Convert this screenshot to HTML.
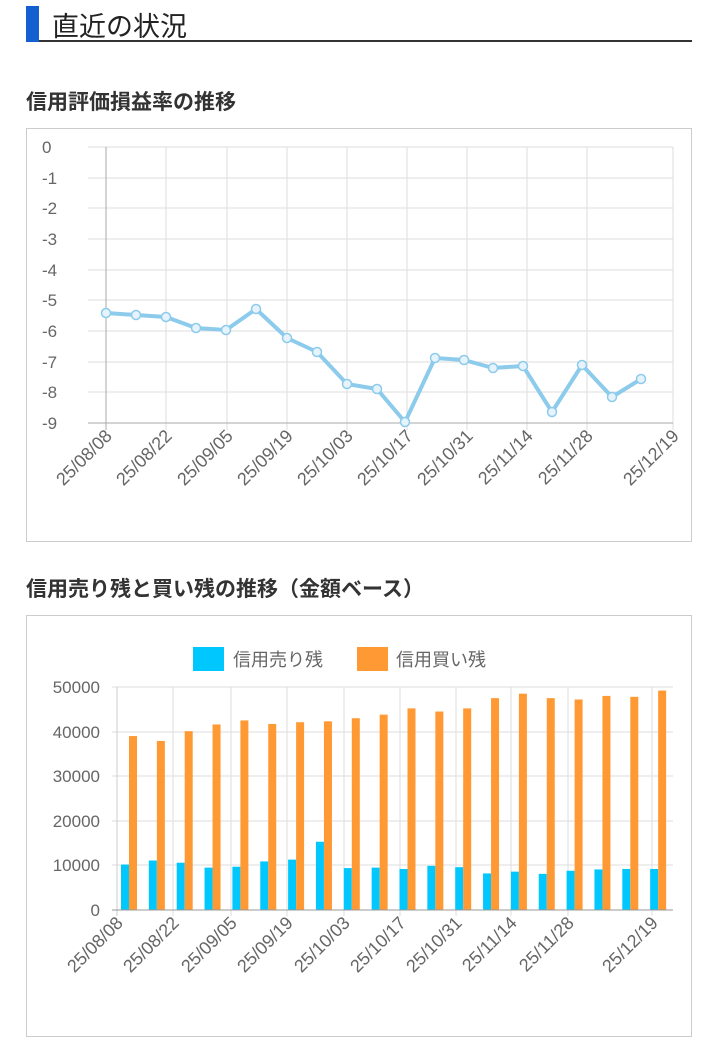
<!DOCTYPE html>
<html><head><meta charset="utf-8"><style>
body{margin:0;width:716px;height:1024px;background:#fff;font-family:"Liberation Sans","Noto Sans CJK JP",sans-serif;overflow:hidden;position:relative}
.h1{position:absolute;left:26px;top:4px;width:666px;height:36px;border-bottom:2px solid #333}
.h1 .bar{position:absolute;left:0;top:2px;width:13px;height:36px;background:#1560d0}
.h1 .t{position:absolute;left:26px;top:1px;font-size:27px;color:#222}
.h2{position:absolute;left:26px;font-size:21px;font-weight:bold;color:#333}
.box{position:absolute;left:26px;width:664px;border:1px solid #ccc}
svg{position:absolute;left:0;top:0}
</style></head><body>
<div class="h1"><div class="bar"></div><div class="t">直近の状況</div></div>
<div class="h2" style="top:86px">信用評価損益率の推移</div>
<div class="box" style="top:128px;height:412px"></div>
<div class="h2" style="top:573px">信用売り残と買い残の推移（金額ベース）</div>
<div class="box" style="top:615px;height:420px"></div>
<svg width="716" height="1024" font-family="Liberation Sans, sans-serif">
<g stroke="#ddd" stroke-width="1">
<line x1="88" x2="673" y1="147" y2="147"/><line x1="88" x2="673" y1="178" y2="178"/><line x1="88" x2="673" y1="208" y2="208"/><line x1="88" x2="673" y1="239" y2="239"/><line x1="88" x2="673" y1="270" y2="270"/><line x1="88" x2="673" y1="300" y2="300"/><line x1="88" x2="673" y1="331" y2="331"/><line x1="88" x2="673" y1="362" y2="362"/><line x1="88" x2="673" y1="392" y2="392"/>
<line x1="166" x2="166" y1="147" y2="430"/><line x1="227" x2="227" y1="147" y2="430"/><line x1="287" x2="287" y1="147" y2="430"/><line x1="347" x2="347" y1="147" y2="430"/><line x1="407" x2="407" y1="147" y2="430"/><line x1="467" x2="467" y1="147" y2="430"/><line x1="527" x2="527" y1="147" y2="430"/><line x1="587" x2="587" y1="147" y2="430"/><line x1="673" x2="673" y1="147" y2="430"/>
</g>
<line x1="106" x2="106" y1="147" y2="430" stroke="#aaa"/>
<line x1="88" x2="673" y1="423" y2="423" stroke="#aaa"/>
<g font-size="17" fill="#666">
<text x="42" y="153">0</text><text x="42" y="184">-1</text><text x="42" y="214">-2</text><text x="42" y="245">-3</text><text x="42" y="276">-4</text><text x="42" y="306">-5</text><text x="42" y="337">-6</text><text x="42" y="368">-7</text><text x="42" y="398">-8</text><text x="42" y="429">-9</text>
</g>
<g font-size="18" fill="#666" text-anchor="end">
<text transform="translate(113,437) rotate(-45)">25/08/08</text>
<text transform="translate(173,437) rotate(-45)">25/08/22</text>
<text transform="translate(234,437) rotate(-45)">25/09/05</text>
<text transform="translate(294,437) rotate(-45)">25/09/19</text>
<text transform="translate(354,437) rotate(-45)">25/10/03</text>
<text transform="translate(414,437) rotate(-45)">25/10/17</text>
<text transform="translate(474,437) rotate(-45)">25/10/31</text>
<text transform="translate(534,437) rotate(-45)">25/11/14</text>
<text transform="translate(594,437) rotate(-45)">25/11/28</text>
<text transform="translate(680,437) rotate(-45)">25/12/19</text>
</g>
<polyline fill="none" stroke="#8ccbeb" stroke-width="4" stroke-linejoin="round" points="106,313 136,315 166,317 196,328 226,330 256,309 287,338 317,352 347,384 377,389 405,422 435,358 464,360 493,368 523,366 552,412 582,365 612,397 641,379"/>
<g fill="#e6f3fa" stroke="#8ccbeb" stroke-width="1.5">
<circle cx="106" cy="313" r="4.5"/><circle cx="136" cy="315" r="4.5"/><circle cx="166" cy="317" r="4.5"/><circle cx="196" cy="328" r="4.5"/><circle cx="226" cy="330" r="4.5"/><circle cx="256" cy="309" r="4.5"/><circle cx="287" cy="338" r="4.5"/><circle cx="317" cy="352" r="4.5"/><circle cx="347" cy="384" r="4.5"/><circle cx="377" cy="389" r="4.5"/><circle cx="405" cy="422" r="4.5"/><circle cx="435" cy="358" r="4.5"/><circle cx="464" cy="360" r="4.5"/><circle cx="493" cy="368" r="4.5"/><circle cx="523" cy="366" r="4.5"/><circle cx="552" cy="412" r="4.5"/><circle cx="582" cy="365" r="4.5"/><circle cx="612" cy="397" r="4.5"/><circle cx="641" cy="379" r="4.5"/>
</g>
<rect x="193" y="647" width="31" height="24" fill="#00c8ff"/>
<text x="233" y="666" font-size="18" fill="#666" font-family="Liberation Sans, Noto Sans CJK JP, sans-serif">信用売り残</text>
<rect x="357" y="647" width="31" height="24" fill="#ff9933"/>
<text x="396" y="666" font-size="18" fill="#666" font-family="Liberation Sans, Noto Sans CJK JP, sans-serif">信用買い残</text>
<g stroke="#ddd">
<line x1="112" x2="673" y1="687" y2="687"/><line x1="112" x2="673" y1="732" y2="732"/><line x1="112" x2="673" y1="776" y2="776"/><line x1="112" x2="673" y1="821" y2="821"/><line x1="112" x2="673" y1="865" y2="865"/>
<line x1="173" x2="173" y1="687" y2="916"/><line x1="231" x2="231" y1="687" y2="916"/><line x1="287" x2="287" y1="687" y2="916"/><line x1="344" x2="344" y1="687" y2="916"/><line x1="400" x2="400" y1="687" y2="916"/><line x1="456" x2="456" y1="687" y2="916"/><line x1="511" x2="511" y1="687" y2="916"/><line x1="568" x2="568" y1="687" y2="916"/><line x1="652" x2="652" y1="687" y2="916"/>
</g>
<line x1="117" x2="117" y1="687" y2="916" stroke="#ccc"/>
<g font-size="17" fill="#666" text-anchor="end">
<text x="100" y="693">50000</text><text x="100" y="738">40000</text><text x="100" y="782">30000</text><text x="100" y="827">20000</text><text x="100" y="871">10000</text><text x="100" y="916">0</text>
</g>
<g id="bars"></g>
<line x1="112" x2="673" y1="910" y2="910" stroke="#999"/>
<g font-size="18" fill="#666" text-anchor="end">
<text transform="translate(124,924) rotate(-45)">25/08/08</text>
<text transform="translate(180,924) rotate(-45)">25/08/22</text>
<text transform="translate(238,924) rotate(-45)">25/09/05</text>
<text transform="translate(294,924) rotate(-45)">25/09/19</text>
<text transform="translate(351,924) rotate(-45)">25/10/03</text>
<text transform="translate(407,924) rotate(-45)">25/10/17</text>
<text transform="translate(463,924) rotate(-45)">25/10/31</text>
<text transform="translate(518,924) rotate(-45)">25/11/14</text>
<text transform="translate(575,924) rotate(-45)">25/11/28</text>
<text transform="translate(659,924) rotate(-45)">25/12/19</text>
</g>
</svg>
<script>
var s=[10200,11100,10600,9500,9700,10900,11300,15300,9400,9500,9200,9900,9600,8200,8600,8100,8800,9100,9200,9200];
var b=[39000,37900,40100,41600,42500,41700,42100,42300,43000,43800,45200,44500,45200,47500,48500,47500,47200,48000,47800,49200];
var g=document.getElementById('bars'),h='';
for(var i=0;i<20;i++){var x=121+i*27.85;var hs=s[i]*223/50000,hb=b[i]*223/50000;
h+='<rect x="'+x+'" y="'+(910-hs)+'" width="8" height="'+hs+'" fill="#00c8ff"/>';
h+='<rect x="'+(x+8)+'" y="'+(910-hb)+'" width="8" height="'+hb+'" fill="#ff9933"/>';}
g.innerHTML=h;
</script>
</body></html>
